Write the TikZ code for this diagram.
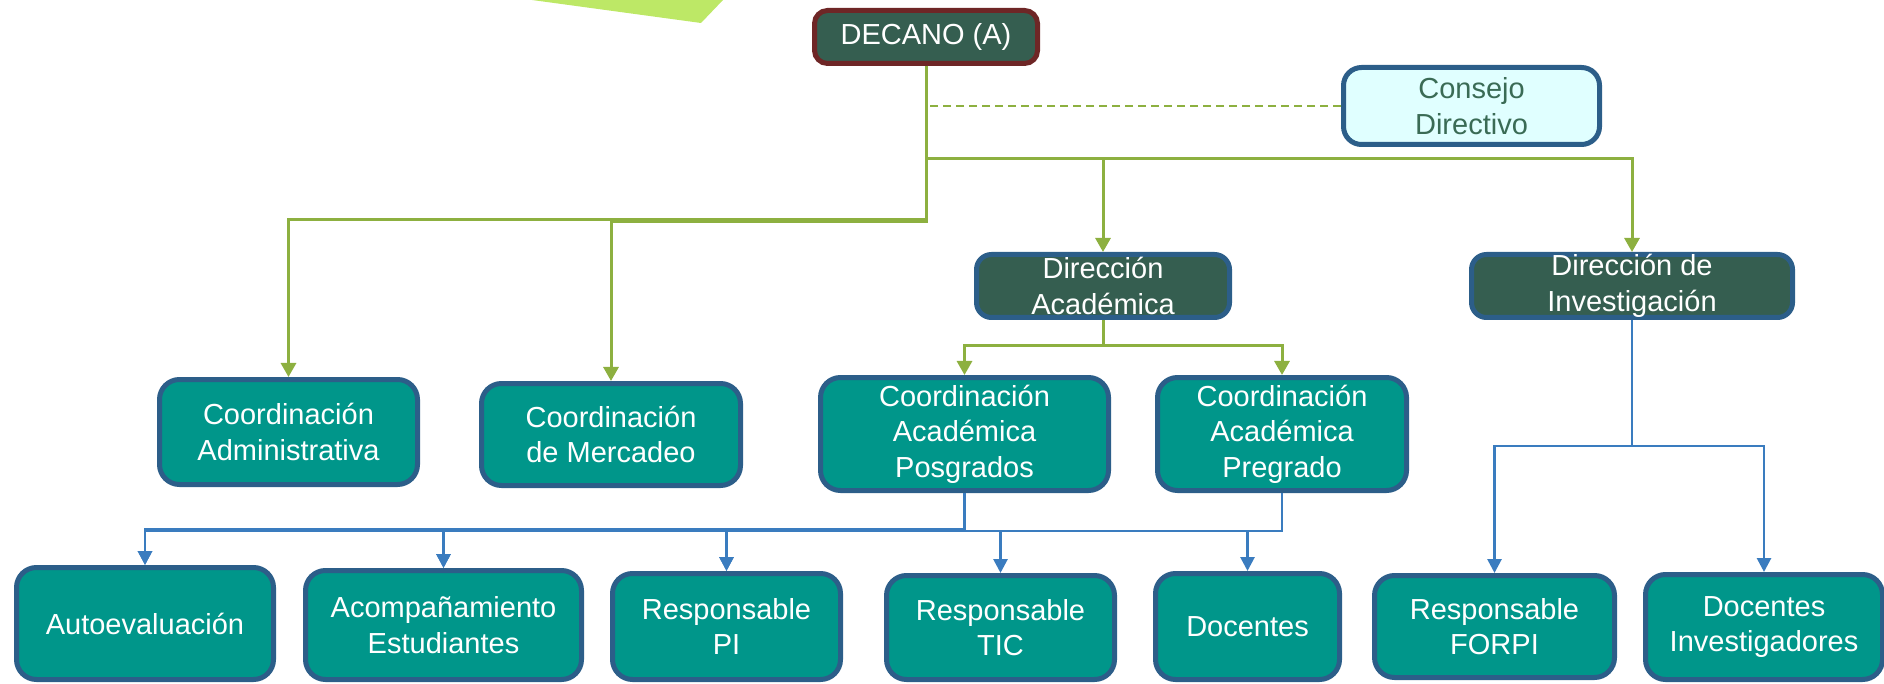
\documentclass[tikz,border=0pt]{standalone}
\usepackage{fontspec}
\setmainfont{Liberation Sans}
\usetikzlibrary{arrows.meta}
\definecolor{tealfill}{HTML}{00968A}
\definecolor{bord}{HTML}{2C5E89}
\definecolor{dgreen}{HTML}{355E50}
\definecolor{dred}{HTML}{6E2626}
\definecolor{lcyan}{HTML}{E0FFFF}
\definecolor{txtg}{HTML}{3A6B55}
\definecolor{lgreen}{HTML}{8DB040}
\definecolor{lblue}{HTML}{3A7CBF}
\definecolor{limefill}{HTML}{BDE866}
\begin{document}
\begin{tikzpicture}[x=1pt,y=-1pt,
  base/.style={line width=5pt, rounded corners=20pt, align=center, inner sep=0pt,
    font=\fontsize{29}{35.5}\selectfont},
  box/.style={base, draw=bord, fill=tealfill, text=white},
  dirbox/.style={base, draw=bord, fill=dgreen, text=white, rounded corners=15pt},
  decbox/.style={base, draw=dred, fill=dgreen, text=white, rounded corners=13pt},
  conbox/.style={base, draw=bord, fill=lcyan, text=txtg, rounded corners=18pt},
  gline/.style={draw=lgreen, line width=3pt},
  garrow/.style={gline, -{Triangle[width=15pt,length=14pt]}},
  bline/.style={draw=lblue, line width=2.8pt},
  barrow/.style={bline, -{Triangle[width=14pt,length=14pt]}}
]
\useasboundingbox (0,0) rectangle (1884,684);
\fill[limefill] (532,0) -- (701,23) -- (723,0) -- cycle;

% top level
\node[decbox, minimum width=223pt, minimum height=53pt] (dec) at (926,37) {DECANO (A)};
\node[conbox, minimum width=256pt, minimum height=77pt] (consejo) at (1471.5,106) {Consejo\\Directivo};
\node[dirbox, minimum width=253pt, minimum height=63pt] (dirA) at (1103,286) {Dirección\\Académica};
\node[dirbox, minimum width=321pt, minimum height=63pt] (dirI) at (1632,286) {Dirección de\\Investigación};

% second level
\node[box, minimum width=258pt, minimum height=105pt] (admin) at (288.5,432) {Coordinación\\Administrativa};
\node[box, minimum width=259pt, minimum height=102pt] (merc) at (611,434.5) {Coordinación\\de Mercadeo};
\node[box, minimum width=288pt, minimum height=113pt] (posg) at (964.5,434) {Coordinación\\Académica\\Posgrados};
\node[box, minimum width=249pt, minimum height=113pt] (preg) at (1282,434) {Coordinación\\Académica\\Pregrado};

% bottom level
\node[box, minimum width=257pt, minimum height=112pt] (auto) at (145,623.5) {Autoevaluación};
\node[box, minimum width=276pt, minimum height=109pt] (acomp) at (443.5,625) {Acompañamiento\\Estudiantes};
\node[box, minimum width=228pt, minimum height=106pt] (pi) at (726.5,626.5) {Responsable\\PI};
\node[box, minimum width=228pt, minimum height=104pt] (tic) at (1000.5,627.5) {Responsable\\TIC};
\node[box, minimum width=184pt, minimum height=106pt] (doc) at (1247.5,626.5) {Docentes};
\node[box, minimum width=240pt, minimum height=102pt] (forpi) at (1494.5,626.5) {Responsable\\FORPI};
\node[box, minimum width=237pt, minimum height=105pt] (docinv) at (1764,627) {Docentes\\Investigadores};

% bus levels
\coordinate (yadm) at (0,220);
\coordinate (ymer) at (0,221.5);
\coordinate (ydir) at (0,159);
\coordinate (yac) at (0,346);
\coordinate (yb1) at (0,529.5);
\coordinate (yb2) at (0,531);
\coordinate (yi) at (0,446);

% green connectors
\draw[gline, line width=2pt, dash pattern=on 8pt off 5pt] (consejo.west) -- (consejo.west -| dec.south);
\draw[garrow] (dec.south) -- (dec.south |- yadm) -| (admin.north);
\draw[garrow] (dec.south) -- (dec.south |- ymer) -| (merc.north);
\draw[garrow] (dec.south) -- (dec.south |- ydir) -| (dirA.north);
\draw[garrow] (dec.south) -- (dec.south |- ydir) -| (dirI.north);
\draw[garrow] (dirA.south) -- (dirA.south |- yac) -| (posg.north);
\draw[garrow] (dirA.south) -- (dirA.south |- yac) -| (preg.north);

% blue connectors
\foreach \t in {auto,acomp,pi}
  \draw[barrow] (posg.south) -- (posg.south |- yb1) -| (\t.north);
\foreach \t in {auto,acomp,pi,tic,doc}
  \draw[barrow] (preg.south) -- (preg.south |- yb2) -| (\t.north);
\draw[barrow] (dirI.south) -- (dirI.south |- yi) -| (forpi.north);
\draw[barrow] (dirI.south) -- (dirI.south |- yi) -| (docinv.north);
\end{tikzpicture}
\end{document}
